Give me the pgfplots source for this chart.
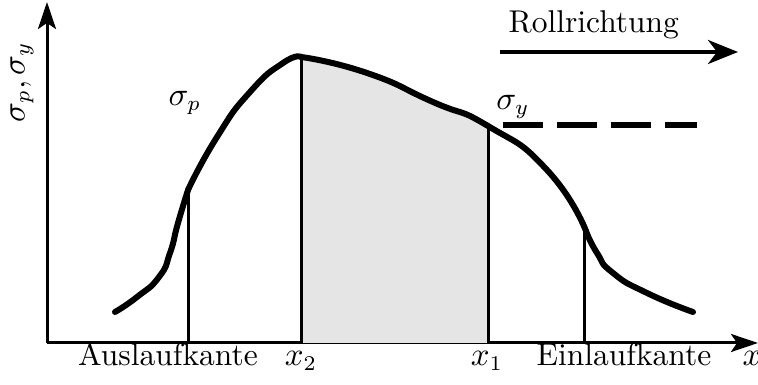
\documentclass[border=0pt]{standalone}
\usepackage{pgfplots}
\usepackage{pgfplotstable}
\pgfplotsset{compat=1.18}
\usepgfplotslibrary{fillbetween}
\usetikzlibrary{arrows.meta}

% stress profile along the roll gap, in four pieces joined at the
% exit edge, the neutral point x2 and the entry edge
\pgfplotstableread{
x y
68 31
90 46
112 66
123 90
131 120
141 153
}\exitzone
\pgfplotstableread{
x y
141 153
170 206
203 251
236 280
254 286
}\backwardslip
\pgfplotstableread{
x y
254 286
320 270
386 241
441 217
500 173
539 112
}\forwardslip
\pgfplotstableread{
x y
539 112
550 90
566 70
600 50
646 31
}\entryzone
% outline of the slip zones, used only to bound the shaded area
\pgfplotstableread{
x y
203 251
236 280
254 286
320 270
386 241
441 217
500 173
539 112
}\slipzone

\begin{document}
\begin{tikzpicture}[every node/.append style={font=\fontsize{10.5}{12.6}\selectfont}]
\begin{axis}[
  anchor=origin, at={(0,0)},
  scale only axis, width=237pt, height=113.667pt,
  xmin=0, xmax=711, ymin=0, ymax=341,
  axis lines=left,
  axis line style={line width=1pt, -{Stealth[length=9pt,width=6pt,inset=2pt]}},
  ticks=none, clip=false,
  stresscurve/.style={black, line width=2pt, smooth, tension=1, line cap=round},
]
\addplot[name path=curve, draw=none, smooth, tension=1] table {\slipzone};
\path[name path=base] (axis cs:0,0) -- (axis cs:711,0);
\addplot[fill=gray!20, draw=none] fill between[of=curve and base, soft clip={domain=254:441}];

% vertical markers
\addplot[line width=1pt] coordinates {(141,0) (141,153)};
\addplot[line width=1pt] coordinates {(254,0) (254,286)};
\addplot[line width=1pt] coordinates {(441,0) (441,217)};
\addplot[line width=1pt] coordinates {(537,0) (537,115)};

% yield stress level
\addplot[line width=2.2pt, dash pattern=on 13.3pt off 4.7pt] coordinates {(456,218) (650,218)};

% rolling direction
\addplot[line width=1.3pt, -{Stealth[length=10pt,width=8pt,inset=3pt]}] coordinates {(453,291) (691,291)};

% pressure curve
\addplot[stresscurve] table {\exitzone};
\addplot[stresscurve] table {\backwardslip};
\addplot[stresscurve] table {\forwardslip};
\addplot[stresscurve] table {\entryzone};

\node[anchor=base west] at (axis cs:451,310) {Rollrichtung};
\node at (axis cs:138,240) {$\sigma_p$};
\node at (axis cs:466,236) {$\sigma_y$};
\node[anchor=base] at (axis cs:121,-23) {Auslaufkante};
\node[anchor=base] at (axis cs:254,-23) {$x_2$};
\node[anchor=base] at (axis cs:440,-23) {$x_1$};
\node[anchor=base] at (axis cs:577,-23) {Einlaufkante};
\node[anchor=base] at (axis cs:705,-23) {$x$};
\node[rotate=90] at (axis cs:-25,261) {$\sigma_p, \sigma_y$};
\end{axis}
\pgfresetboundingbox
\useasboundingbox (-15.667pt,-14pt) rectangle (237pt,114.333pt);
\end{tikzpicture}
\end{document}
